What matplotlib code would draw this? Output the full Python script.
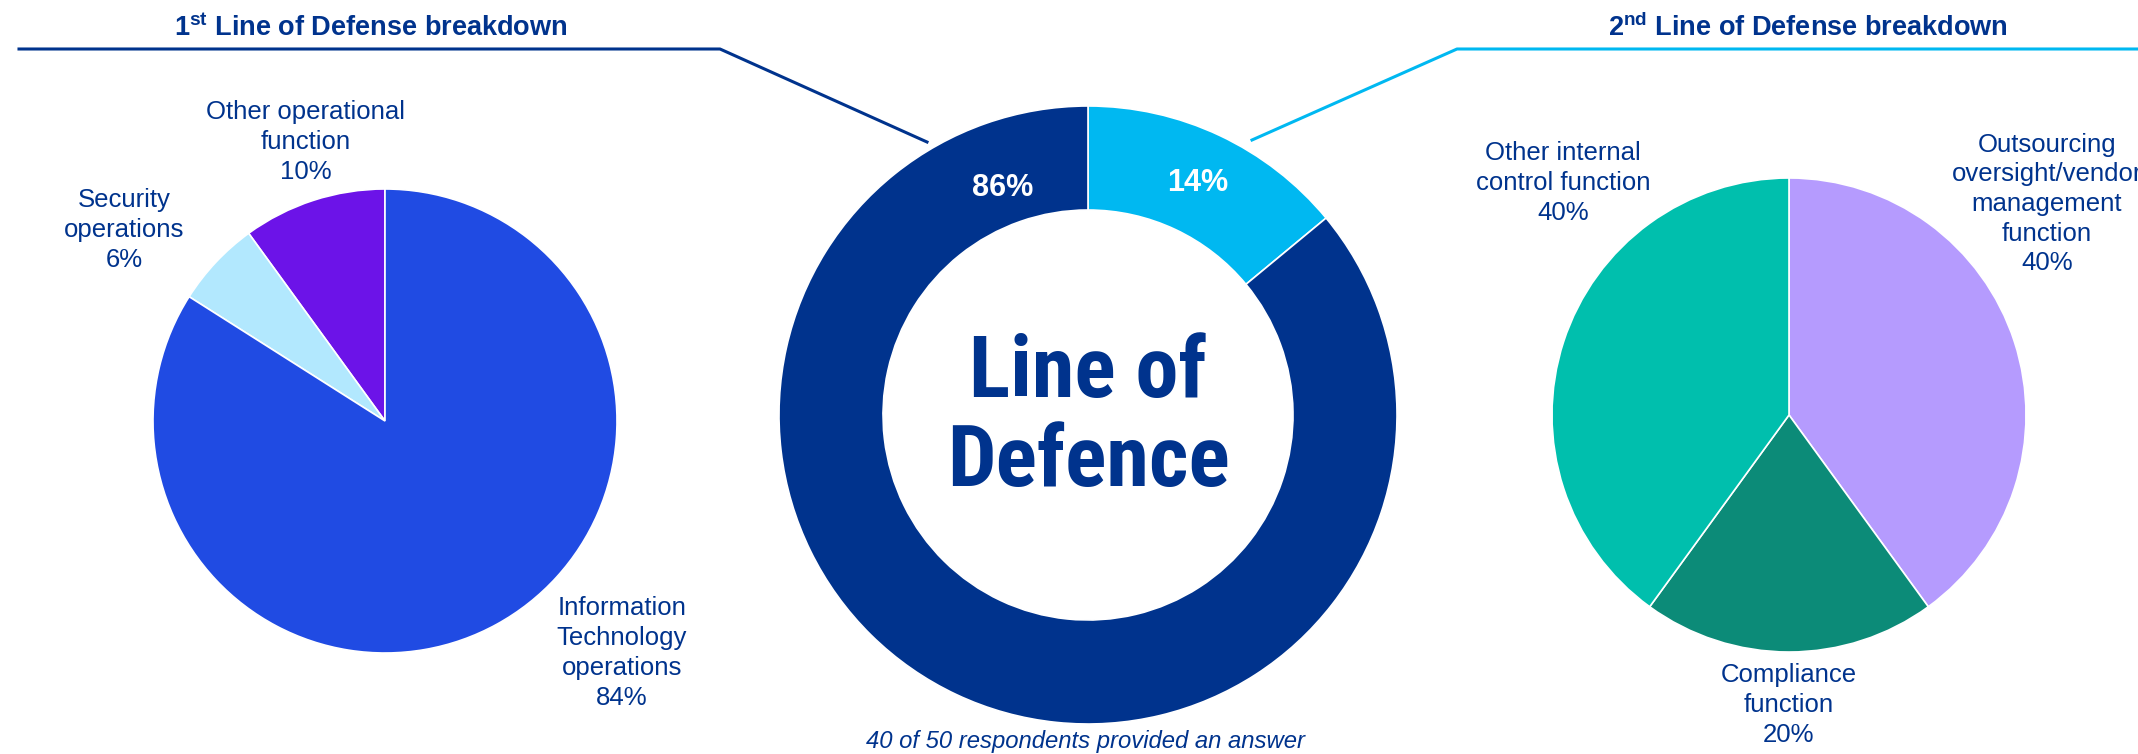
import matplotlib.pyplot as plt
from matplotlib import font_manager

W, H = 2138, 754

# 1st line breakdown, counter-clockwise from 12 o'clock
first_names = ["Other operational\nfunction", "Security\noperations",
               "Information\nTechnology\noperations"]
first_pct = [10, 6, 84]
first_colors = ["#6C13E8", "#B2E8FE", "#204BE3"]

# 2nd / 1st line split, clockwise from 12 o'clock
line_pct = [14, 86]
line_colors = ["#00B8F1", "#00338D"]

# 2nd line breakdown, clockwise from 12 o'clock
second_names = ["Outsourcing\noversight/vendor\nmanagement\nfunction",
                "Compliance\nfunction", "Other internal\ncontrol function"]
second_pct = [40, 20, 40]
second_colors = ["#B59BFE", "#0C8B78", "#00BFAD"]

answered, asked = 40, 50

navy = "#00338D"
plt.rcParams["font.family"] = "Liberation Sans"
plt.rcParams["mathtext.fontset"] = "custom"
plt.rcParams["mathtext.rm"] = "Liberation Sans"
plt.rcParams["mathtext.bf"] = "Liberation Sans:bold"

installed = {f.name for f in font_manager.fontManager.ttflist}
narrow = [f for f in ["Roboto Condensed", "Liberation Sans Narrow", "Open Sans Condensed"]
          if f in installed] + ["Liberation Sans"]

fig = plt.figure(figsize=(W / 100, H / 100), dpi=100)
ax = fig.add_axes([0, 0, 1, 1])


def py(y):
    # pixel rows are counted from the top
    return H - y


wp = dict(edgecolor="white", linewidth=1.2)
ax.pie(first_pct, colors=first_colors, startangle=90, radius=232,
       center=(385, py(421)), wedgeprops=wp)
ax.pie(line_pct, colors=line_colors, startangle=90, counterclock=False, radius=309,
       center=(1088, py(415)), wedgeprops=dict(width=104, **wp))
ax.pie(second_pct, colors=second_colors, startangle=90, counterclock=False, radius=237,
       center=(1789, py(415)), wedgeprops=wp)
ax.set_xlim(0, W)
ax.set_ylim(0, H)
ax.set_aspect("auto")
ax.axis("off")

label_kw = dict(ha="center", va="center", color=navy, fontsize=18.5, linespacing=1.3)
for name, pct, (x, y) in zip(first_names, first_pct, [(306, 142), (124, 230), (622, 653)]):
    ax.text(x, py(y), f"{name}\n{pct}%", **label_kw)
for name, pct, (x, y) in zip(second_names, second_pct, [(2047, 204), (1789, 705), (1563, 183)]):
    ax.text(x, py(y), f"{name}\n{pct}%", **label_kw)

for pct, (x, y) in zip(line_pct, [(1198, 183), (1003, 188)]):
    ax.text(x, py(y), f"{pct}%", ha="center", va="center", color="white",
            fontsize=22, fontweight="bold")

ax.text(1088, py(418), "Line of\nDefence", ha="center", va="center", color=navy,
        family=narrow, fontsize=62, fontweight="bold", linespacing=1.12)

# connectors from the titles down to the ring
ax.plot([19, 720, 927], [py(49), py(49), py(142)], color=navy, lw=2.2)
ax.plot([1252, 1457, W], [py(140), py(49), py(49)], color=line_colors[0], lw=2.2)

title_kw = dict(ha="center", va="center", color=navy, fontsize=19.5, fontweight="bold")
ax.text(371, py(28), r"1$^{\mathbf{st}}$ Line of Defense breakdown", **title_kw)
ax.text(1808, py(28), r"2$^{\mathbf{nd}}$ Line of Defense breakdown", **title_kw)

ax.text(1086, py(748), f"{answered} of {asked} respondents provided an answer",
        ha="center", va="baseline", color=navy, fontsize=17.2, style="italic")

fig.savefig("out.png", dpi=100)
